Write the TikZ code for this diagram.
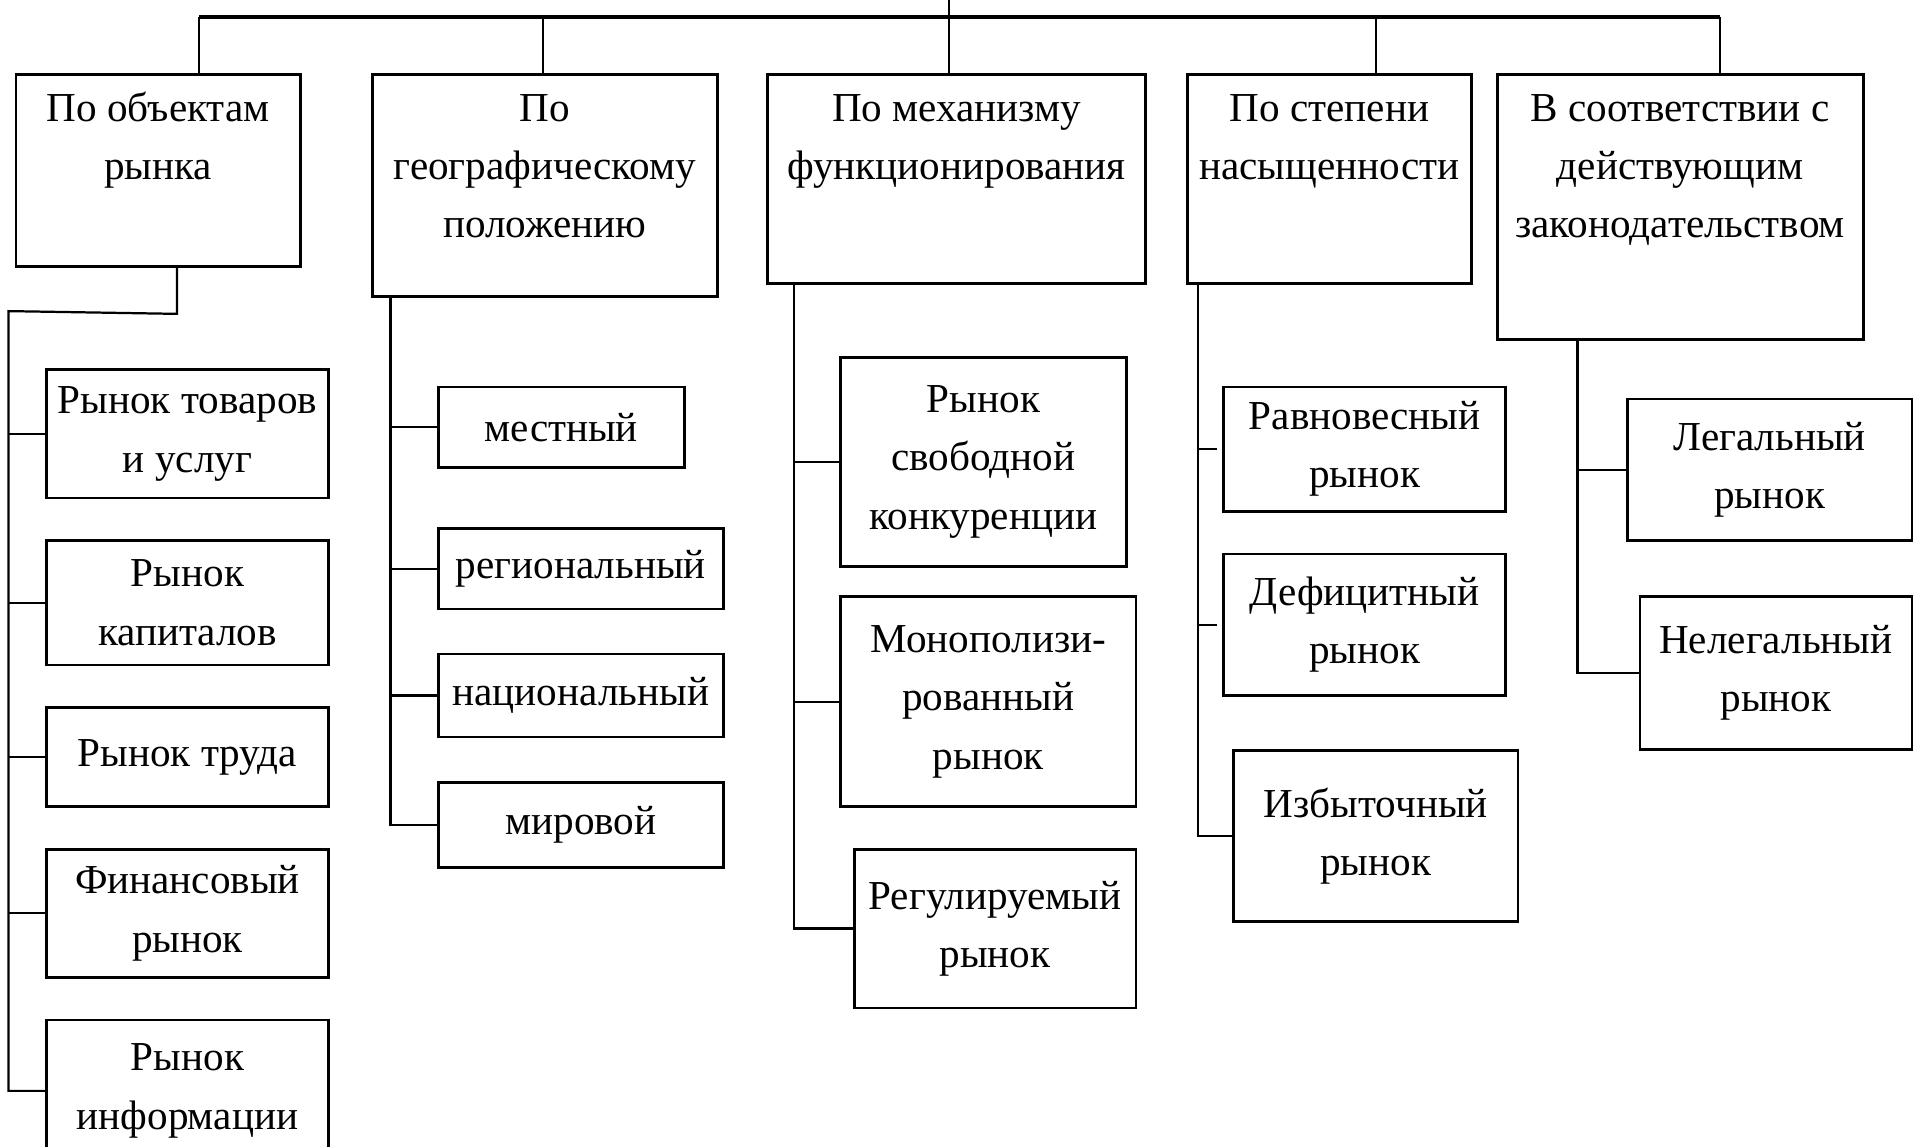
\documentclass[tikz,border=0pt]{standalone}
\usepackage{fontspec}
\setmainfont{Liberation Serif}
\usepackage{tikz}

\begin{document}
\begin{tikzpicture}[x=0.25mm,y=-0.25mm,
    font=\fontsize{24}{34}\selectfont,
    head/.style={draw,line width=1.6pt,anchor=north west,inner sep=0pt},
    item/.style={draw,line width=1.6pt,anchor=north west,inner sep=0pt,align=center},
    link/.style={line width=1.3pt},
    bar/.style={line width=2pt}]
\useasboundingbox (0,0) rectangle (1568,940);

% top bar
\coordinate (root) at (778,0);
\foreach \i/\x in {1/163,2/445,3/778,4/1128,5/1410}
    \coordinate (b\i) at (\x,14);
\draw[bar] (b1) -- (b5);
\draw[link] (root) -- (b3);

% heads
\node[head] (obj) at (12,60) {\parbox[c][39.25mm][t]{58.25mm}{\centering\vspace*{1.2mm}\strut По объектам\\рынка}};
\node[head] (geo) at (304,60) {\parbox[c][45.5mm][t]{70.75mm}{\centering\vspace*{1.2mm}\strut По\\географическому\\положению}};
\node[head] (mech) at (628,60) {\parbox[c][42.75mm][t]{77.5mm}{\centering\vspace*{1.2mm}\strut По механизму\\функционирования}};
\node[head] (sat) at (972,60) {\parbox[c][42.75mm][t]{58.25mm}{\centering\vspace*{1.2mm}\strut По степени\\насыщенности}};
\node[head] (law) at (1226,60) {\parbox[c][54.25mm][t]{75mm}{\centering\vspace*{1.2mm}\strut В соответствии с\\действующим\\законодательством}};
\foreach \i/\n in {1/obj,2/geo,3/mech,4/sat,5/law}
    \draw[link] (b\i) -- (b\i |- \n.north);

% by objects
\node[item,minimum width=57.75mm,minimum height=26.25mm] (goods) at (37,302) {Рынок товаров\\и услуг};
\node[item,minimum width=57.75mm,minimum height=25.5mm] (capital) at (37,442) {Рынок\\капиталов};
\node[item,minimum width=57.75mm,minimum height=20.25mm] (labour) at (37,579) {Рынок труда};
\node[item,minimum width=57.75mm,minimum height=26.25mm] (finance) at (37,695) {Финансовый\\рынок};
\node[item,minimum width=57.75mm,minimum height=29mm] (info) at (37,835) {Рынок\\информации};
\coordinate (s1) at (7,255);
\draw[link] (obj.south west) ++(133,0) -- ++(0,38) -- (s1) |- (info.west);
\foreach \n in {goods,capital,labour,finance}
    \draw[link] (s1 |- \n.west) -- (\n.west);

% by place
\node[item,minimum width=50.5mm,minimum height=16.5mm] (local) at (358,316) {местный};
\node[item,minimum width=58.5mm,minimum height=16.5mm] (regional) at (358,432) {региональный};
\node[item,minimum width=58.5mm,minimum height=17mm] (national) at (358,535) {национальный};
\node[item,minimum width=58.5mm,minimum height=17.5mm] (world) at (358,640) {мировой};
\coordinate (s2) at (320,242);
\draw[link] (s2) |- (world.west);
\foreach \n in {local,regional,national}
    \draw[link] (s2 |- \n.west) -- (\n.west);

% by mechanism
\node[item,minimum width=58.5mm,minimum height=42.75mm] (free) at (688,292) {Рынок\\свободной\\конкуренции};
\node[item,minimum width=60.5mm,minimum height=43mm] (monopoly) at (688,488) {Монополизи-\\рованный\\рынок};
\node[item,minimum width=57.75mm,minimum height=32.5mm] (regulated) at (699,695) {Регулируемый\\рынок};
\coordinate (s3) at (651,231);
\draw[link] (s3) |- (regulated.west);
\foreach \n in {free,monopoly}
    \draw[link] (s3 |- \n.west) -- (\n.west);

% by saturation
\node[item,minimum width=57.75mm,minimum height=25.5mm] (equil) at (1002,316) {Равновесный\\рынок};
\node[item,minimum width=57.75mm,minimum height=29mm] (deficit) at (1002,453) {Дефицитный\\рынок};
\node[item,minimum width=58.25mm,minimum height=35mm] (surplus) at (1010,614) {Избыточный\\рынок};
\coordinate (s4) at (982,231);
\draw[link] (s4) |- (surplus.west);
\foreach \n in {equil,deficit}
    \draw[link,shorten >=1.2mm] (s4 |- \n.west) -- (\n.west);

% by law
\node[item,minimum width=58.25mm,minimum height=29mm] (legal) at (1333,326) {Легальный\\рынок};
\node[item,minimum width=55.75mm,minimum height=31.25mm] (illegal) at (1343,488) {Нелегальный\\рынок};
\coordinate (s5) at (1293,277);
\draw[link] (s5) |- (illegal.west);
\draw[link] (s5 |- legal.west) -- (legal.west);
\end{tikzpicture}
\end{document}
